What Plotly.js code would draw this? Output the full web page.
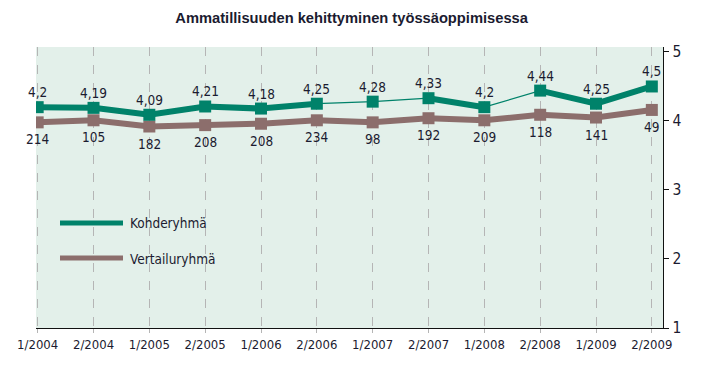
<!DOCTYPE html>
<html>
<head>
<meta charset="utf-8">
<script src="https://cdn.plot.ly/plotly-3.0.1.min.js"></script>
<style>html,body{margin:0;padding:0;background:#fff;}#chart{width:719px;height:386px;}</style>
</head>
<body>
<div id="chart"></div>
<script>
const categories = ["1/2004","2/2004","1/2005","2/2005","1/2006","2/2006","1/2007","2/2007","1/2008","2/2008","1/2009","2/2009"];
const kohderyhma = [4.2, 4.19, 4.09, 4.21, 4.18, 4.25, 4.28, 4.33, 4.2, 4.44, 4.25, 4.5];
const vertailuryhma = [3.98, 4.01, 3.92, 3.94, 3.96, 4.01, 3.98, 4.04, 4.01, 4.09, 4.05, 4.16];
const vertailuN = [214, 105, 182, 208, 208, 234, 98, 192, 209, 118, 141, 49];
const yTicks = [1, 2, 3, 4, 5];
// segments (i -> i+1) of Kohderyhmä drawn as a thin line
const thinSegments = [5, 6, 8];

const GREEN = '#00826a';
const MAUVE = '#8c6e6c';
const TXT = '#1b1b30';
const FONT = '"DejaVu Sans Condensed", "Liberation Sans Narrow", sans-serif';

const fmt = v => String(v).replace('.', ',');

const traces = [];

// Vertailuryhmä
traces.push({
  x: categories, y: vertailuryhma, type: 'scatter', mode: 'lines+markers',
  line: {color: MAUVE, width: 6},
  marker: {symbol: 'square', size: 12, color: MAUVE},
  hoverinfo: 'skip'
});

// Kohderyhmä thin full line
traces.push({
  x: categories, y: kohderyhma, type: 'scatter', mode: 'lines',
  line: {color: GREEN, width: 1.3}, hoverinfo: 'skip'
});

// Kohderyhmä thick runs
let run = [0];
const runs = [];
for (let i = 0; i < kohderyhma.length - 1; i++) {
  if (thinSegments.includes(i)) { runs.push(run); run = [i + 1]; }
  else run.push(i + 1);
}
runs.push(run);
runs.filter(r => r.length > 1).forEach(r => {
  traces.push({
    x: r.map(i => categories[i]), y: r.map(i => kohderyhma[i]),
    type: 'scatter', mode: 'lines', line: {color: GREEN, width: 6}, hoverinfo: 'skip'
  });
});

// Kohderyhmä markers
traces.push({
  x: categories, y: kohderyhma, type: 'scatter', mode: 'markers',
  marker: {symbol: 'square', size: 12, color: GREEN},
  hoverinfo: 'skip'
});

const plotL = 36, plotR = 663, plotT = 47, plotB = 328;
const W = 719, H = 386;
const px = x => (x - plotL) / (plotR - plotL);
const py = y => (plotB - y) / (plotB - plotT);

const labelFont = {family: FONT, size: 13.5, color: TXT};
const annotations = [];
categories.forEach((c, i) => {
  annotations.push({x: c, y: kohderyhma[i], xref: 'x', yref: 'y', text: fmt(kohderyhma[i]),
    showarrow: false, yshift: 15, xanchor: 'center', yanchor: 'middle', font: labelFont});
  annotations.push({x: c, y: vertailuryhma[i], xref: 'x', yref: 'y', text: String(vertailuN[i]),
    showarrow: false, yshift: -17, xanchor: 'center', yanchor: 'middle', font: labelFont});
});
annotations.push(
  {xref: 'paper', yref: 'paper', x: px(128), y: py(223), xanchor: 'left', yanchor: 'middle', showarrow: false,
   text: 'Kohderyhmä', font: {family: FONT, size: 13.5, color: TXT}},
  {xref: 'paper', yref: 'paper', x: px(128), y: py(259), xanchor: 'left', yanchor: 'middle', showarrow: false,
   text: 'Vertailuryhmä', font: {family: FONT, size: 13.5, color: TXT}}
);

const layout = {
  width: W, height: H,
  margin: {l: plotL, r: W - plotR, t: plotT, b: H - plotB, pad: 0},
  paper_bgcolor: '#ffffff', plot_bgcolor: '#e3f0ea',
  showlegend: false, hovermode: false,
  title: {text: 'Ammatillisuuden kehittyminen työssäoppimisessa', x: 0.489, xanchor: 'center', y: 0.955, yanchor: 'middle',
    font: {family: '"Liberation Sans", sans-serif', size: 14.7, color: TXT, weight: 'bold'}},
  xaxis: {
    type: 'category', range: [-0.03, 11.2],
    showgrid: true, gridcolor: '#b5b5b5', gridwidth: 1, griddash: 'dash',
    showline: true, linecolor: '#111111', linewidth: 1.3,
    ticks: 'outside', ticklen: 4, tickcolor: '#b5b5b5',
    tickfont: {family: FONT, size: 13, color: TXT},
    zeroline: false, fixedrange: true
  },
  yaxis: {
    side: 'right', range: [1, 5.072], tickvals: yTicks, ticktext: yTicks.map(String),
    showgrid: false, zeroline: false,
    showline: true, linecolor: '#111111', linewidth: 1.3,
    ticks: 'outside', ticklen: 5, tickcolor: '#111111',
    tickfont: {family: FONT, size: 15.5, color: TXT}, fixedrange: true
  },
  shapes: [
    {type: 'line', xref: 'paper', yref: 'paper', x0: px(60), x1: px(123), y0: py(223), y1: py(223), line: {color: GREEN, width: 5}},
    {type: 'line', xref: 'paper', yref: 'paper', x0: px(60), x1: px(123), y0: py(258), y1: py(258), line: {color: MAUVE, width: 5}}
  ],
  annotations: annotations
};

Plotly.newPlot('chart', traces, layout, {displayModeBar: false, staticPlot: true});
</script>
</body>
</html>
